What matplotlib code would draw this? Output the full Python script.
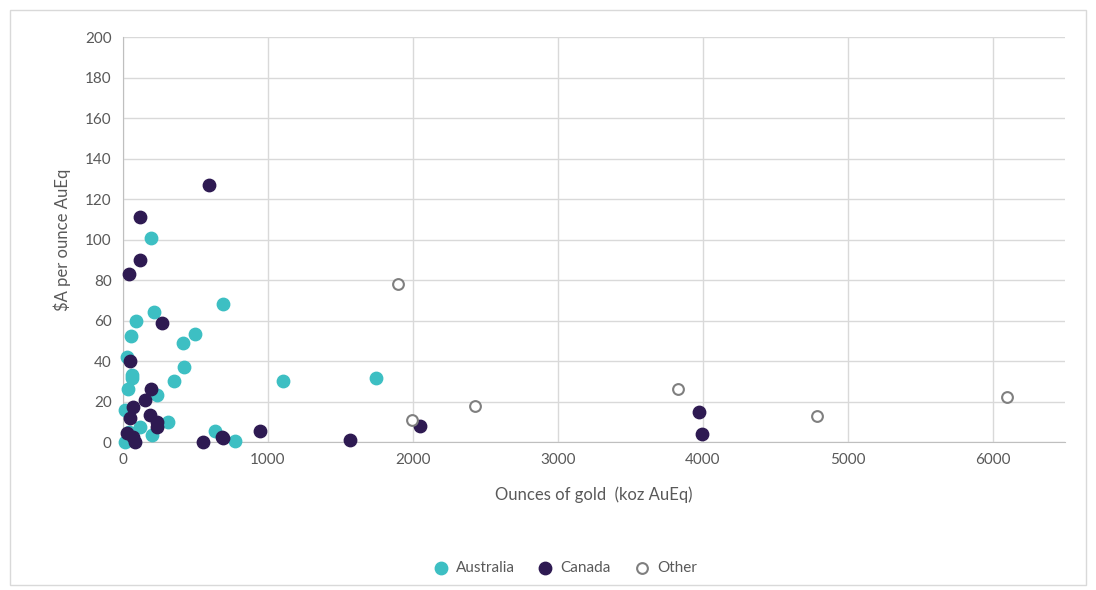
import matplotlib
matplotlib.use("Agg")
import matplotlib.pyplot as plt
from matplotlib.patches import Rectangle

plt.rcParams['font.family'] = ['Lato', 'DejaVu Sans']

# koz AuEq vs $A per ounce AuEq
aus_x = [193, 690, 214, 90, 55, 497, 414, 28, 62, 62, 421, 352, 1103, 34, 234,
         14, 310, 117, 200, 634, 772, 14, 1745, 40, 70]
aus_y = [101, 68, 64, 60, 52.5, 53.5, 49, 42, 33, 31.7, 37, 30, 30, 26, 23,
         16, 10, 7.6, 3.5, 5.6, 0.5, 0, 31.7, 5, 1]

can_x = [593, 117, 117, 41, 267, 48, 193, 152, 69, 48, 186, 234, 234, 28, 69,
         83, 550, 683, 690, 945, 1565, 2048, 3972, 3993]
can_y = [127, 111, 90, 83, 59, 40, 26, 21, 17.5, 12, 13.4, 10, 7.5, 4.5, 2.5,
         0, 0, 2.5, 2, 5.4, 1, 8, 15, 4]

oth_x = [1897, 1993, 2428, 3828, 4786, 6097]
oth_y = [78, 11, 18, 26, 13, 22]

teal = '#3DBFC3'
navy = '#2E1A52'
grid = '#D9D9D9'
txt = '#595959'

fig = plt.figure(figsize=(10.96, 5.90), dpi=100)
fig.patches.append(Rectangle((0.009, 0.008), 0.982, 0.975, transform=fig.transFigure,
                             fill=False, edgecolor='#D9D9D9', linewidth=1))
ax = fig.add_axes([0.1122, 0.2508, 0.8595, 0.6864])

ax.scatter(aus_x, aus_y, s=80, color=teal, label='Australia', zorder=3, clip_on=False)
ax.scatter(can_x, can_y, s=80, color=navy, label='Canada', zorder=3, clip_on=False)
ax.scatter(oth_x, oth_y, s=60, facecolor='white', edgecolor='#7F7F7F',
           linewidth=1.5, label='Other', zorder=3, clip_on=False)

ax.set_xlim(0, 6500)
ax.set_ylim(0, 200)
ax.set_xticks(range(0, 7000, 1000))
ax.set_yticks(range(0, 220, 20))
ax.grid(True, color=grid, linewidth=1)
ax.set_axisbelow(True)
for s in ['top', 'right']:
    ax.spines[s].set_visible(False)
for s in ['left', 'bottom']:
    ax.spines[s].set_color('#BFBFBF')
ax.tick_params(length=0, colors=txt, labelsize=11, pad=8)

ax.set_xlabel('Ounces of gold  (koz AuEq)', color=txt, fontsize=12, labelpad=14)
ax.set_ylabel('$A per ounce AuEq', color=txt, fontsize=12, labelpad=10)

ax.legend(loc='upper center', bbox_to_anchor=(0.465, -0.26), ncol=3, frameon=False,
          fontsize=11, labelcolor=txt, handletextpad=0.0, columnspacing=1.0,
          markerscale=1.0)

fig.savefig('out.png', dpi=100)
